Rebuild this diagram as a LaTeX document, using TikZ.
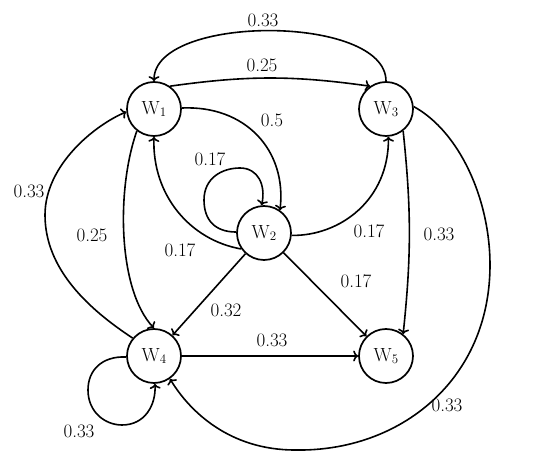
\documentclass[tikz,border=0pt]{standalone}
\usetikzlibrary{arrows.meta}
\newcommand{\wlab}[1]{W\raisebox{-1.5pt}{\fontsize{13}{13}\selectfont #1}}
\begin{document}
\begin{tikzpicture}[x=1pt,y=-1pt,
  every node/.style={font=\fontsize{19}{22}\selectfont},
  wnode/.style={draw,circle,line width=1.7pt,minimum size=54pt,inner sep=0pt},
  edge/.style={line width=1.6pt,-{To[length=5pt,width=11pt]}},
  lbl/.style={inner sep=0pt}]
\useasboundingbox (0,0) rectangle (550,465);
\node[wnode] (W1) at (154,109) {\wlab{1}};
\node[wnode] (W3) at (386,109) {\wlab{3}};
\node[wnode] (W2) at (264,233) {\wlab{2}};
\node[wnode] (W4) at (154,356) {\wlab{4}};
\node[wnode] (W5) at (386,356) {\wlab{5}};
% W3 -> W1 top
\draw[edge] (W3.north) .. controls (386,14) and (154,14) .. (W1.north);
% W1 -> W3
\draw[edge] (W1.55) to[bend left=8] (W3.125);
% W1 -> W2
\draw[edge] (W1.2) .. controls (245,105) and (287,150) .. (W2.55);
% W2 loop
\draw[edge] (W2.178) .. controls (215,232) and (204,220) .. (204,200)
  .. controls (204,178) and (222,168) .. (240,168)
  .. controls (258,168) and (266,185) .. (W2.95);
% W2 -> W1
\draw[edge] (W2.215) .. controls (190,240) and (152,195) .. (W1.south);
% W2 -> W3
\draw[edge] (W2.-5) .. controls (340,236) and (389,200) .. (W3.-85);
% W3 -> W5
\draw[edge] (W3.-52) to[bend left=6] (W5.52);
% W3 -> W4 big arc
\draw[edge] (W3.5) .. controls (460,132) and (490,200) .. (490,265)
  .. controls (490,380) and (400,452) .. (295,450)
  .. controls (230,450) and (190,412) .. (W4.-55);
% W4 -> W1 left arc
\draw[edge] (W4.140) .. controls (90,310) and (45,270) .. (45,215)
  .. controls (45,165) and (95,125) .. (W1.186);
% W1 -> W4
\draw[edge] (W1.-128) .. controls (116,190) and (118,290) .. (W4.north);
% straight edges
\draw[edge] (W2) -- (W4);
\draw[edge] (W2) -- (W5);
\draw[edge] (W4) -- (W5);
% W4 loop
\draw[edge] (W4.182) .. controls (102,356) and (88,370) .. (88,390)
  .. controls (88,412) and (105,425) .. (122,425)
  .. controls (145,425) and (156,405) .. (W4.-88);
% labels
\node[lbl] (l1) at (263,20) {0.33};
\node[lbl] (l2) at (262,65) {0.25};
\node[lbl] (l3) at (272,120) {0.5};
\node[lbl] (l4) at (210,159) {0.17};
\node[lbl] (l5) at (180,250) {0.17};
\node[lbl] (l6) at (369,231) {0.17};
\node[lbl] (l7) at (439,234) {0.33};
\node[lbl] (l8) at (29,191) {0.33};
\node[lbl] (l9) at (92,235) {0.25};
\node[lbl] (l10) at (226,310) {0.32};
\node[lbl] (l11) at (356,281) {0.17};
\node[lbl] (l12) at (272,340) {0.33};
\node[lbl] (l13) at (447,405) {0.33};
\node[lbl] (l14) at (79,431) {0.33};
\end{tikzpicture}
\end{document}
